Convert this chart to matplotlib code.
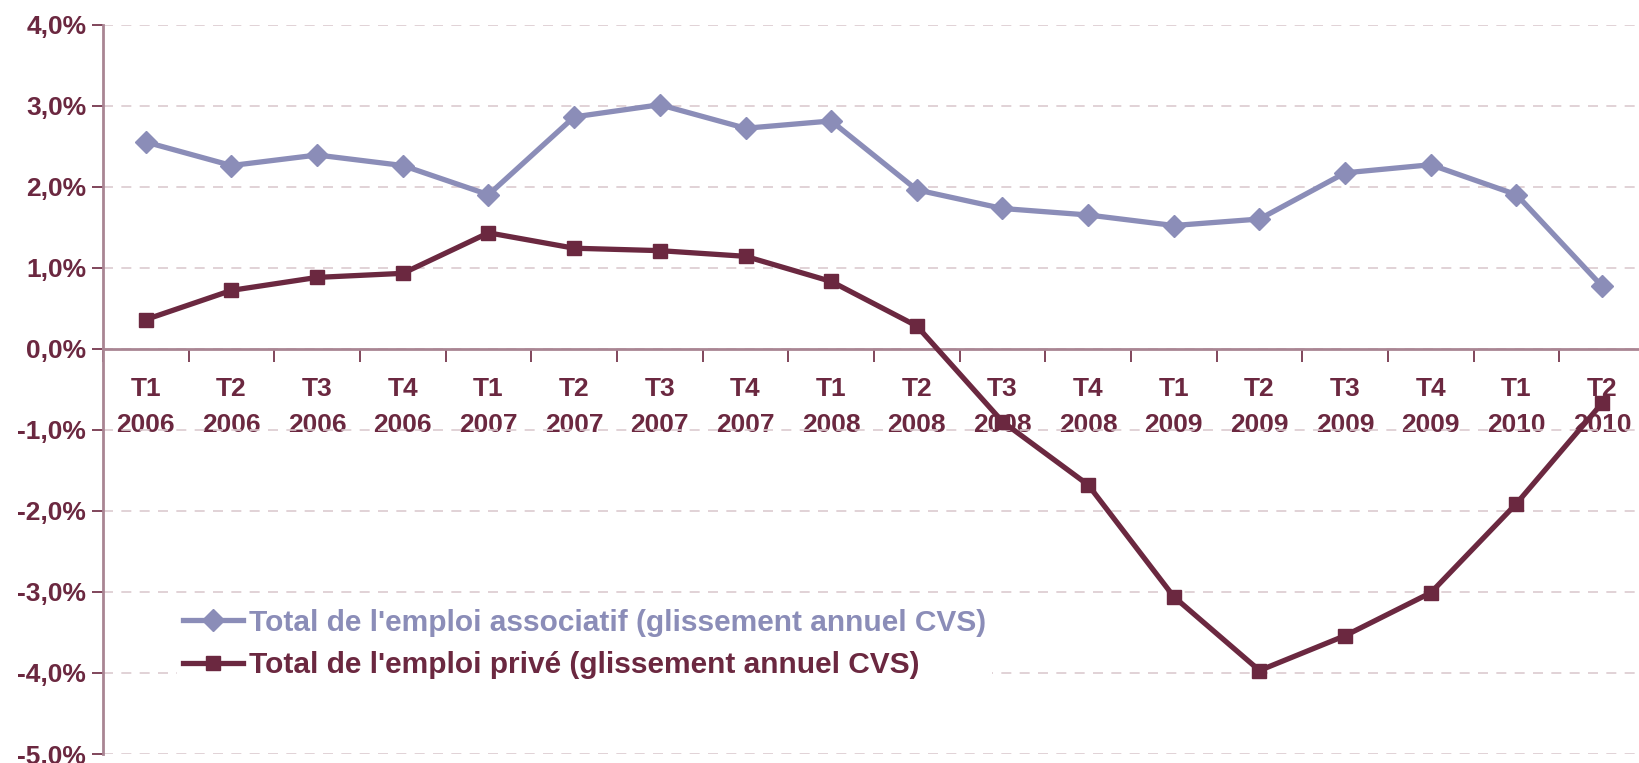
import numpy as np
import matplotlib
matplotlib.use("Agg")
import matplotlib.pyplot as plt
from matplotlib.ticker import FuncFormatter, FixedLocator

# quarters shown on the x axis
quarters = ["T1", "T2", "T3", "T4"] * 4 + ["T1", "T2"]
years = ["2006"] * 4 + ["2007"] * 4 + ["2008"] * 4 + ["2009"] * 4 + ["2010"] * 2
tick_labels = [q + "\n" + y for q, y in zip(quarters, years)]

# annual change (%), seasonally adjusted
associatif = [2.55, 2.26, 2.39, 2.26, 1.90, 2.86, 3.01, 2.72, 2.81,
              1.96, 1.73, 1.65, 1.52, 1.60, 2.17, 2.27, 1.90, 0.77]
prive = [0.36, 0.72, 0.88, 0.93, 1.43, 1.24, 1.21, 1.14, 0.83,
         0.28, -0.90, -1.68, -3.06, -3.97, -3.54, -3.01, -1.91, -0.67]

label_assoc = "Total de l'emploi associatif (glissement annuel CVS)"
label_prive = "Total de l'emploi privé (glissement annuel CVS)"

c_assoc = "#8b8db8"
c_prive = "#6b2840"
c_axis = "#a98593"
c_grid = "#dccbd0"

plt.rcParams["font.family"] = ["Liberation Sans", "DejaVu Sans"]

W, H = 1639, 763
fig = plt.figure(figsize=(W / 100, H / 100), dpi=100)
left, right = 103 / W, 1645 / W
top, bottom = 1 - 24.5 / H, 1 - 754 / H
ax = fig.add_axes([left, bottom, right - left, top - bottom])

x = np.arange(len(associatif))
ax.plot(x, associatif, color=c_assoc, lw=3.8, marker="D", ms=11,
        label=label_assoc, zorder=3, clip_on=False)
ax.plot(x, prive, color=c_prive, lw=3.8, marker="s", ms=10,
        label=label_prive, zorder=3, clip_on=False)

ax.set_xlim(-0.5, len(x) - 0.5)
ax.set_ylim(-5, 4)
ax.set_yticks(np.arange(-5, 5, 1))
ax.yaxis.set_major_formatter(FuncFormatter(
    lambda v, p: ("%.1f%%" % v).replace(".", ",")))
ax.grid(axis="y", color=c_grid, ls=(0, (6, 5)), lw=1.2)
ax.set_axisbelow(True)

ax.spines["top"].set_visible(False)
ax.spines["right"].set_visible(False)
ax.spines["bottom"].set_position(("data", 0))
for s in ("left", "bottom"):
    ax.spines[s].set_color(c_axis)
    ax.spines[s].set_linewidth(2)

ax.set_xticks(x)
ax.set_xticklabels(tick_labels)
ax.xaxis.set_minor_locator(FixedLocator(np.arange(-0.5, len(x), 1)))
ax.tick_params(axis="x", which="major", length=0, pad=20,
               labelsize=19, labelcolor=c_prive)
ax.tick_params(axis="x", which="minor", length=9, width=1.2,
               color=c_prive, direction="out")
ax.tick_params(axis="y", length=8, width=1.2, color=c_prive,
               labelsize=19, labelcolor=c_prive, pad=4)
for t in ax.get_xticklabels() + ax.get_yticklabels():
    t.set_fontweight("bold")
    t.set_linespacing(1.65)

leg = ax.legend(loc="upper left", bbox_to_anchor=(162 / W, 1 - 588 / H),
                bbox_transform=fig.transFigure, frameon=True,
                facecolor="white", edgecolor="none", framealpha=1,
                borderpad=0.2, handlelength=2.0, handletextpad=0.2,
                labelspacing=0.48,
                prop={"weight": "bold", "size": 21.5})
for txt, col in zip(leg.get_texts(), (c_assoc, c_prive)):
    txt.set_color(col)

fig.savefig("out.png", dpi=100)
